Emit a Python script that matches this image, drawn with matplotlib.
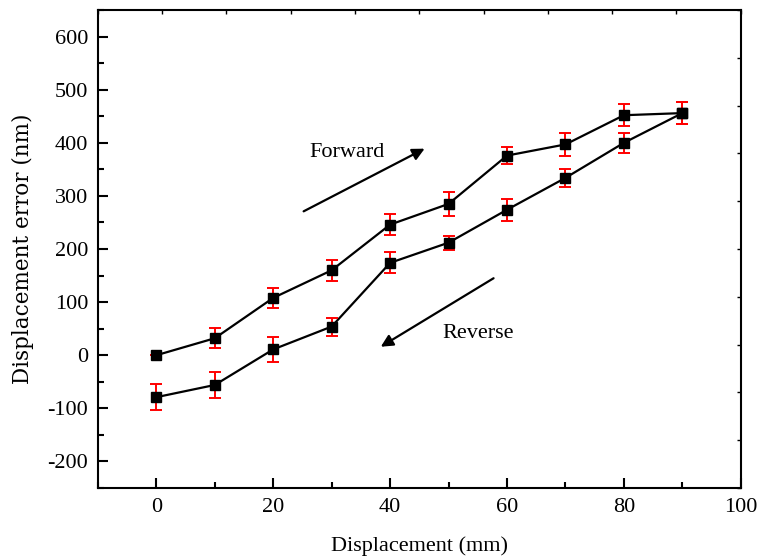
import matplotlib
matplotlib.use("Agg")
import matplotlib.pyplot as plt
from matplotlib.ticker import MultipleLocator

plt.rcParams['font.family'] = ['Liberation Serif', 'DejaVu Serif']
plt.rcParams['axes.unicode_minus'] = False

# Displacement positions (mm)
positions = [0, 10, 20, 30, 40, 50, 60, 70, 80, 90]

# Forward stroke: mean displacement error and its spread (nm)
forward_err = [0, 32, 108, 160, 246, 285, 376, 397, 452, 456]
forward_sd = [0, 19, 19, 20, 20, 22, 16, 21, 21, 21]

# Reverse stroke: mean displacement error and its spread (nm)
reverse_err = [-79, -56, 11, 54, 174, 212, 274, 334, 400, 456]
reverse_sd = [24, 24, 23, 17, 20, 13, 21, 17, 19, 21]

fig = plt.figure(figsize=(7.59, 5.6), dpi=100)
ax = fig.add_axes([0.129, 0.1286, 0.847, 0.8534])

for vals, sd in ((forward_err, forward_sd), (reverse_err, reverse_sd)):
    ax.plot(positions, vals, color='black', lw=1.6, zorder=2)
    ax.errorbar(positions, vals, yerr=sd, fmt='none', ecolor='red',
                elinewidth=1.4, capsize=4.5, capthick=1.4, zorder=3)
    ax.plot(positions, vals, ls='none', marker='s', ms=7.5, color='black',
            zorder=4)

ax.set_xlim(-10, 100)
ax.set_ylim(-250, 650)
ax.xaxis.set_major_locator(MultipleLocator(20))
ax.xaxis.set_minor_locator(MultipleLocator(10))
ax.set_yticks(range(-200, 700, 100))
ax.yaxis.set_minor_locator(MultipleLocator(50))

ax.tick_params(which='both', direction='in', labelsize=16, width=1.5,
               top=False, right=False, pad=7)
ax.tick_params(which='major', length=7)
ax.tick_params(which='minor', length=4)
for sp in ax.spines.values():
    sp.set_linewidth(1.5)

ax.set_xlabel('Displacement (mm)', fontsize=16, labelpad=14)
ax.set_ylabel('Displacement error (nm)', fontsize=15.5, labelpad=10,
              family=['DejaVu Serif'])

# Unlabelled mirror ticks on the top and right frame
tx = ax.twinx()
tx.set_ylim(0, 10)
tx.set_yticks(range(11))
tx.tick_params(direction='in', length=3, width=1.0, labelright=False,
               labelleft=False)
ty = ax.twiny()
ty.set_xlim(0, 10)
ty.set_xticks(range(11))
ty.tick_params(direction='in', length=3, width=1.0, labeltop=False,
               labelbottom=False)
for a in (tx, ty):
    for sp in a.spines.values():
        sp.set_visible(False)

# Direction annotations
ax.annotate('', xy=(45.9, 389), xytext=(25.2, 271),
            arrowprops=dict(arrowstyle='-|>', color='black', lw=1.6,
                            mutation_scale=18, shrinkA=0, shrinkB=0))
ax.text(32.6, 381, 'Forward', fontsize=16, ha='center', va='center')
ax.annotate('', xy=(38.4, 16), xytext=(57.7, 145),
            arrowprops=dict(arrowstyle='-|>', color='black', lw=1.6,
                            mutation_scale=18, shrinkA=0, shrinkB=0))
ax.text(55.0, 41, 'Reverse', fontsize=16, ha='center', va='center')

fig.savefig('out.png', dpi=100)
